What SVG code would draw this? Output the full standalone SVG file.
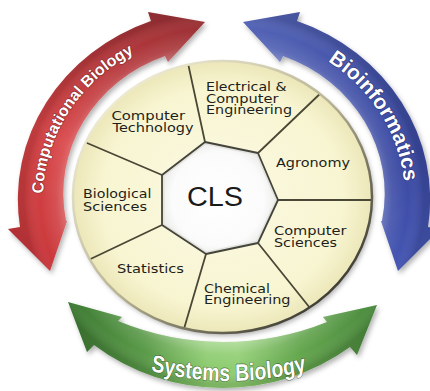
<svg xmlns="http://www.w3.org/2000/svg" width="430" height="391" viewBox="0 0 430 391">
<defs>
<style>
.seg{font-family:"DejaVu Sans",Verdana,sans-serif;font-size:12px;fill:#1e1e1a}
.div{stroke:#4a4736;stroke-width:1.8;fill:none;stroke-linecap:round}
.arrtxt{font-family:"Liberation Sans",Arial,sans-serif;font-weight:bold;fill:#fff;paint-order:stroke;stroke-linejoin:round;stroke-opacity:0.75}
</style>
<filter id="sh" x="-15%" y="-15%" width="135%" height="135%"><feDropShadow dx="2" dy="3" stdDeviation="2.5" flood-color="#000" flood-opacity="0.3"/></filter>
<linearGradient id="gRed" gradientUnits="userSpaceOnUse" x1="205" y1="22" x2="40" y2="270">
<stop offset="0" stop-color="#9a3135"/><stop offset="0.3" stop-color="#b8393d"/><stop offset="0.6" stop-color="#d84446"/><stop offset="1" stop-color="#c8373b"/>
</linearGradient>
<linearGradient id="gBlue" gradientUnits="userSpaceOnUse" x1="243" y1="22" x2="408" y2="270">
<stop offset="0" stop-color="#5464b6"/><stop offset="0.4" stop-color="#4352a8"/><stop offset="0.7" stop-color="#3a4aa2"/><stop offset="1" stop-color="#4656b4"/>
</linearGradient>
<linearGradient id="gGreen" gradientUnits="userSpaceOnUse" x1="68" y1="0" x2="377" y2="0">
<stop offset="0" stop-color="#3d7a33"/><stop offset="0.25" stop-color="#5a9a48"/><stop offset="0.45" stop-color="#8ccb6e"/><stop offset="0.55" stop-color="#90ce72"/><stop offset="0.75" stop-color="#64a64e"/><stop offset="1" stop-color="#4b8a3e"/>
</linearGradient>
<radialGradient id="hl" gradientUnits="userSpaceOnUse" cx="224" cy="198" r="200" gradientTransform="translate(224 198) scale(1 0.93) translate(-224 -198)">
<stop offset="0.74" stop-color="#fff" stop-opacity="0.45"/><stop offset="0.84" stop-color="#fff" stop-opacity="0.1"/><stop offset="0.92" stop-color="#fff" stop-opacity="0"/><stop offset="1" stop-color="#000" stop-opacity="0.12"/>
</radialGradient>
<radialGradient id="cream" gradientUnits="userSpaceOnUse" cx="222.5" cy="197" r="150" gradientTransform="translate(222.5 197) scale(1 0.91) translate(-222.5 -197)">
<stop offset="0" stop-color="#fbf9e2"/><stop offset="0.8" stop-color="#f8f5d2"/><stop offset="1" stop-color="#ece7b8"/>
</radialGradient>
<radialGradient id="hepfill" gradientUnits="userSpaceOnUse" cx="218" cy="199" r="62">
<stop offset="0" stop-color="#ffffff"/><stop offset="0.75" stop-color="#fbfbfb"/><stop offset="1" stop-color="#e8e8e6"/>
</radialGradient>
<linearGradient id="rim" gradientUnits="userSpaceOnUse" x1="110" y1="80" x2="330" y2="320">
<stop offset="0" stop-color="#f4f1da"/><stop offset="0.5" stop-color="#b9b493"/><stop offset="1" stop-color="#2f2e28"/>
</linearGradient>
<clipPath id="disc"><ellipse cx="222.5" cy="197" rx="149.5" ry="136"/></clipPath>
<clipPath id="hep"><polygon points="205,142 258,153 278,200 258,243 206,254 162,225 162,175"/></clipPath>
<path id="tpRed" d="M 43.1,193.6 A 181 167 0 0 1 162.1,41.1"/>
<path id="tpBlue" d="M 327.8,61.2 A 181 167 0 0 1 404.3,212.6"/>
<path id="tpGreen" d="M 148.1,360.7 A 370.4 300 0 0 0 416,360.7"/>
</defs>
<rect width="430" height="391" fill="#fff"/>

<g id="arrow-computational-biology">
<path filter="url(#sh)" fill="url(#gRed)" d="M 50,271 L 8,229 L 20,227 A 203 190 0 0 1 151,21 L 148,12 L 205,22 L 168,62 L 165,56 A 157 147 0 0 0 66,221 L 67,221 Z"/>
<path fill="url(#hl)" d="M 50,271 L 8,229 L 20,227 A 203 190 0 0 1 151,21 L 148,12 L 205,22 L 168,62 L 165,56 A 157 147 0 0 0 66,221 L 67,221 Z"/>
<text class="arrtxt" font-size="16" stroke="#6e1e22" stroke-width="1.2"><textPath href="#tpRed">Computational Biology</textPath></text>
</g>

<g id="arrow-bioinformatics">
<path filter="url(#sh)" fill="url(#gBlue)" d="M 398,271 L 440,229 L 428,227 A 203 190 0 0 0 297,21 L 300,12 L 243,22 L 280,62 L 283,56 A 157 147 0 0 1 382,221 L 381,221 Z"/>
<path fill="url(#hl)" d="M 398,271 L 440,229 L 428,227 A 203 190 0 0 0 297,21 L 300,12 L 243,22 L 280,62 L 283,56 A 157 147 0 0 1 382,221 L 381,221 Z"/>
<text class="arrtxt" font-size="21" stroke="#1f2a6a" stroke-width="1.2"><textPath href="#tpBlue">Bioinformatics</textPath></text>
</g>

<g id="arrow-systems-biology">
<path filter="url(#sh)" fill="url(#gGreen)" d="M 68,302 L 122,317 L 118,321 A 277 277 0 0 0 327,322 L 323,317 L 377,305 L 357,355 L 350,347 A 216 216 0 0 1 94,345 L 87,352 Z"/>
<path fill="url(#hl)" d="M 68,302 L 122,317 L 118,321 A 277 277 0 0 0 327,322 L 323,317 L 377,305 L 357,355 L 350,347 A 216 216 0 0 1 94,345 L 87,352 Z"/>
<text class="arrtxt" font-size="24" transform="scale(0.81 1)" text-anchor="middle" stroke="#2c4d25" stroke-width="1.2"><textPath href="#tpGreen" startOffset="50%">Systems Biology</textPath></text>
</g>

<g id="hub">
<ellipse cx="222.5" cy="197" rx="149.5" ry="136" fill="url(#cream)" filter="url(#sh)"/>
</g>

<g id="dividers" clip-path="url(#disc)">
<line class="div" x1="205" y1="142" x2="186" y2="54"/>
<line class="div" x1="258" y1="153" x2="324" y2="90"/>
<line class="div" x1="278" y1="200" x2="380" y2="200"/>
<line class="div" x1="258" y1="243" x2="314" y2="313"/>
<line class="div" x1="206" y1="254" x2="181" y2="339"/>
<line class="div" x1="162" y1="225" x2="80" y2="264"/>
<line class="div" x1="162" y1="175" x2="80" y2="140"/>
</g>

<g id="cls">
<polygon points="205,142 258,153 278,200 258,243 206,254 162,225 162,175" fill="url(#hepfill)"/>
<polygon points="205,142 258,153 278,200 258,243 206,254 162,225 162,175" fill="none" stroke="#e2e2de" stroke-width="5" clip-path="url(#hep)"/>
<polygon points="205,142 258,153 278,200 258,243 206,254 162,225 162,175" fill="none" stroke="#45443a" stroke-width="1.8" stroke-linejoin="round"/>
<text x="187" y="206" font-family="Liberation Sans, Arial, sans-serif" font-size="27" fill="#1a1a1a" textLength="56" lengthAdjust="spacingAndGlyphs">CLS</text>
</g>

<ellipse cx="222.5" cy="197" rx="149.5" ry="136" fill="none" stroke="url(#rim)" stroke-width="2.5"/>

<g id="computer-technology"><text class="seg" x="111.5" y="119.5" textLength="73.5" lengthAdjust="spacingAndGlyphs">Computer</text><text class="seg" x="112.5" y="132" textLength="81" lengthAdjust="spacingAndGlyphs">Technology</text></g>
<g id="electrical-computer-engineering"><text class="seg" x="206" y="90.5" textLength="80.5" lengthAdjust="spacingAndGlyphs">Electrical &amp;</text><text class="seg" x="206" y="102.5" textLength="72.5" lengthAdjust="spacingAndGlyphs">Computer</text><text class="seg" x="206" y="114" textLength="86" lengthAdjust="spacingAndGlyphs">Engineering</text></g>
<g id="agronomy"><text class="seg" x="276" y="166.5" textLength="74" lengthAdjust="spacingAndGlyphs">Agronomy</text></g>
<g id="computer-sciences"><text class="seg" x="274" y="235" textLength="72.5" lengthAdjust="spacingAndGlyphs">Computer</text><text class="seg" x="274" y="246.5" textLength="63" lengthAdjust="spacingAndGlyphs">Sciences</text></g>
<g id="chemical-engineering"><text class="seg" x="204" y="292.5" textLength="66" lengthAdjust="spacingAndGlyphs">Chemical</text><text class="seg" x="204" y="303.5" textLength="86.5" lengthAdjust="spacingAndGlyphs">Engineering</text></g>
<g id="statistics"><text class="seg" x="117" y="273" textLength="67" lengthAdjust="spacingAndGlyphs">Statistics</text></g>
<g id="biological-sciences"><text class="seg" x="83" y="198" textLength="68.5" lengthAdjust="spacingAndGlyphs">Biological</text><text class="seg" x="83" y="210.5" textLength="64" lengthAdjust="spacingAndGlyphs">Sciences</text></g>
</svg>
